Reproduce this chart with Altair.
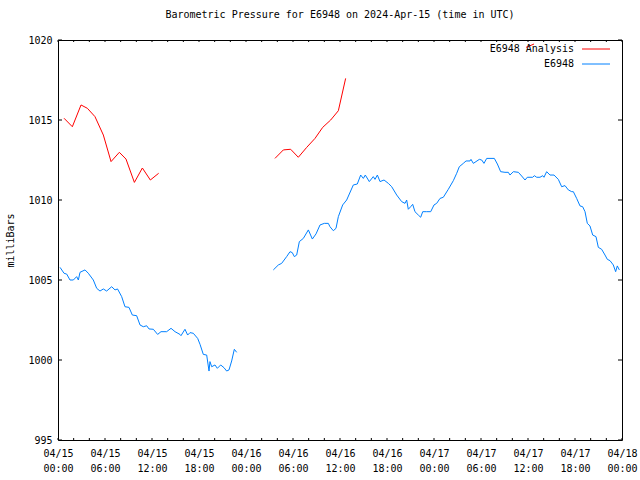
import altair as alt
import pandas as pd

# ---------------- data (hours since 2024-04-15 00:00 UTC, millibars) ----------------
red_seg1_hours = [0.77, 1.83, 2.94, 3.75, 4.72, 5.79, 6.77, 7.83, 8.68, 9.75, 10.77, 11.79, 12.85]
red_seg1_mbar = [1015.11, 1014.58, 1015.94, 1015.73, 1015.21, 1014.06, 1012.40, 1012.98,
                 1012.56, 1011.10, 1012.00, 1011.25, 1011.67]
red_seg2_hours = [27.70, 28.77, 29.70, 30.68, 31.75, 32.81, 33.79, 34.81, 35.79, 36.72]
red_seg2_mbar = [1012.60, 1013.13, 1013.17, 1012.67, 1013.29, 1013.85, 1014.54, 1015.00,
                 1015.58, 1017.60]
red_seg3_hours = [59.75, 60.77]
red_seg3_mbar = [1019.54, 1019.75]

blue_seg1_hours = [0.26, 0.77, 1.11, 1.53, 1.96, 2.38, 2.60, 2.81, 3.45, 3.87, 4.51, 4.94,
                   5.36, 5.79, 6.21, 6.85, 7.28, 7.60, 8.13, 8.55, 9.06, 9.49, 10.04, 10.47,
                   10.89, 11.32, 11.62, 12.17, 12.72, 13.15, 13.87, 14.43, 14.94, 15.57,
                   15.70, 16.21, 16.55, 16.85, 17.27, 17.83, 18.13, 18.55, 18.98, 19.28,
                   19.40, 19.62, 20.04, 20.34, 20.77, 21.19, 21.53, 21.83, 22.17, 22.51, 22.81]
blue_seg1_mbar = [1005.79, 1005.42, 1005.37, 1005.00, 1005.00, 1005.21, 1005.00, 1005.48,
                  1005.63, 1005.42, 1005.00, 1004.48, 1004.31, 1004.44, 1004.31, 1004.58,
                  1004.38, 1004.44, 1003.96, 1003.33, 1003.29, 1002.81, 1002.77, 1002.19,
                  1002.08, 1002.14, 1001.94, 1001.92, 1001.60, 1001.77, 1001.77, 1001.98,
                  1001.77, 1001.60, 1001.52, 1001.92, 1001.56, 1001.71, 1001.67, 1001.35,
                  1000.98, 1000.35, 1000.31, 999.31, 999.90, 999.58, 999.69, 999.48,
                  999.69, 999.52, 999.31, 999.38, 999.94, 1000.67, 1000.48]

blue_seg2_hours = [27.49, 28.13, 28.55, 29.19, 29.62, 29.91, 30.17, 30.47, 30.81, 31.32,
                   31.96, 32.47, 32.94, 33.45, 34.00, 34.51, 34.72, 35.15, 35.49, 35.79,
                   36.34, 36.85, 37.70, 38.21, 38.64, 38.98, 39.23, 39.74, 40.25, 40.47,
                   40.77, 41.11, 41.62, 42.17, 42.60, 43.24, 43.87, 44.30, 44.51, 44.72,
                   45.02, 45.28, 45.57, 46.00, 46.30, 46.56, 47.07, 47.58, 48.00, 48.34,
                   48.77, 49.19, 49.83, 50.47, 50.90, 51.23, 51.74, 52.09, 52.60, 52.72,
                   53.02, 53.36, 53.79, 54.09, 54.38, 54.73, 55.15, 55.70, 56.09, 56.51,
                   57.06, 57.49, 57.70, 58.13, 58.77, 59.19, 59.62, 59.91, 60.60, 60.81,
                   61.11, 61.53, 61.88, 62.04, 62.38, 62.81, 63.32, 63.87, 64.30, 64.72,
                   65.15, 65.58, 65.79, 66.21, 66.64, 66.98, 67.28, 67.57, 67.91, 68.26,
                   68.68, 68.98, 69.40, 69.83, 70.13, 70.47, 70.89, 71.19, 71.40, 71.66]
blue_seg2_mbar = [1005.63, 1005.94, 1006.04, 1006.46, 1006.77, 1006.71, 1006.46, 1006.56,
                  1007.40, 1007.60, 1008.13, 1007.56, 1007.88, 1008.44, 1008.54, 1008.54,
                  1008.33, 1008.08, 1008.23, 1008.96, 1009.69, 1010.00, 1010.94, 1011.00,
                  1011.56, 1011.35, 1011.56, 1011.15, 1011.46, 1011.29, 1011.56, 1011.15,
                  1011.25, 1011.04, 1010.83, 1010.31, 1009.90, 1009.79, 1010.00, 1009.42,
                  1009.58, 1009.73, 1009.27, 1009.06, 1008.92, 1009.27, 1009.27, 1009.27,
                  1009.69, 1009.79, 1010.10, 1010.17, 1010.67, 1011.21, 1011.67, 1012.08,
                  1012.29, 1012.44, 1012.44, 1012.54, 1012.29, 1012.40, 1012.54, 1012.50,
                  1012.29, 1012.60, 1012.60, 1012.60, 1012.25, 1011.77, 1011.73, 1011.73,
                  1011.56, 1011.77, 1011.73, 1011.50, 1011.25, 1011.42, 1011.42, 1011.52,
                  1011.42, 1011.42, 1011.52, 1011.42, 1011.77, 1011.56, 1011.56, 1011.29,
                  1010.83, 1010.90, 1010.63, 1010.52, 1010.52, 1010.10, 1009.63, 1009.58,
                  1009.27, 1008.54, 1008.38, 1007.81, 1007.71, 1007.04, 1006.92, 1006.56,
                  1006.29, 1006.21, 1005.94, 1005.52, 1005.88, 1005.63]

x_tick_hours = list(range(0, 73, 2))
x_label_hours = list(range(0, 73, 6))
y_tick_values = [995, 1000, 1005, 1010, 1015, 1020]

series_names = ["E6948 Analysis", "E6948"]
series_colors = ["#ff0000", "#0080ff"]

TITLE = "Barometric Pressure for E6948 on 2024-Apr-15 (time in UTC)"
FONT = "DejaVu Sans Mono"

# ---------------- build table ----------------
rows = []
for seg, (hh, vv) in enumerate([(red_seg1_hours, red_seg1_mbar),
                                (red_seg2_hours, red_seg2_mbar),
                                (red_seg3_hours, red_seg3_mbar)]):
    for h, v in zip(hh, vv):
        rows.append({"hours": h, "mbar": v, "series": series_names[0], "seg": f"r{seg}"})
for seg, (hh, vv) in enumerate([(blue_seg1_hours, blue_seg1_mbar),
                                (blue_seg2_hours, blue_seg2_mbar)]):
    for h, v in zip(hh, vv):
        rows.append({"hours": h, "mbar": v, "series": series_names[1], "seg": f"b{seg}"})
df = pd.DataFrame(rows)

W, H = 564, 400

label_expr = ("['04/' + (15 + floor(datum.value / 24)), "
              "((datum.value % 24) < 10 ? '0' : '') + (datum.value % 24) + ':00']")

x_scale = alt.Scale(domain=[0, 72], nice=False, zero=False)
y_scale = alt.Scale(domain=[995, 1020], nice=False, zero=False)

x_axis = alt.Axis(values=x_label_hours, labelExpr=label_expr, title=None,
                  labelLineHeight=15, labelPadding=8, labelFlush=False,
                  labelOverlap=False, grid=False, ticks=False, domain=False,
                  labelFont=FONT, labelFontSize=10, labelColor="black")
y_axis = alt.Axis(values=y_tick_values, title="milliBars", titleAngle=270,
                  titleX=-48, titleY=H / 2, titleAlign="center",
                  titleBaseline="middle", labelPadding=6, format="d",
                  grid=False, ticks=False, domain=False,
                  labelFont=FONT, labelFontSize=10, labelColor="black",
                  titleFont=FONT, titleFontSize=10, titleFontWeight="normal",
                  titleColor="black")


def xe():
    return alt.X("hours:Q", scale=x_scale, axis=x_axis)


def ye():
    return alt.Y("mbar:Q", scale=y_scale, axis=y_axis)


lines = alt.Chart(df).mark_line(strokeWidth=1, clip=True).encode(
    x=xe(),
    y=ye(),
    color=alt.Color("series:N", scale=alt.Scale(domain=series_names, range=series_colors),
                    legend=None),
    detail="seg:N",
)

xt = pd.DataFrame({"hours": x_tick_hours})
yt = pd.DataFrame({"mbar": y_tick_values})

tick_bottom = alt.Chart(xt).mark_rule(color="black", strokeWidth=1).encode(
    x=xe(), y=alt.value(H), y2=alt.value(H - 2))
tick_top = alt.Chart(xt).mark_rule(color="black", strokeWidth=1).encode(
    x=xe(), y=alt.value(0), y2=alt.value(2))
tick_left = alt.Chart(yt).mark_rule(color="black", strokeWidth=1).encode(
    y=ye(), x=alt.value(0), x2=alt.value(4))
tick_right = alt.Chart(yt).mark_rule(color="black", strokeWidth=1).encode(
    y=ye(), x=alt.value(W), x2=alt.value(W - 4))

# legend (gnuplot style: text left, sample line right)
leg_text1 = alt.Chart().mark_text(align="right", baseline="middle", font=FONT,
                                   fontSize=10, color="black").encode(
    x=alt.value(516), y=alt.value(9), text=alt.value(series_names[0]))
leg_text2 = alt.Chart().mark_text(align="right", baseline="middle", font=FONT,
                                   fontSize=10, color="black").encode(
    x=alt.value(516), y=alt.value(24), text=alt.value(series_names[1]))
leg_line1 = alt.Chart().mark_rule(color=series_colors[0], strokeWidth=1).encode(
    x=alt.value(524), x2=alt.value(552), y=alt.value(9))
leg_line2 = alt.Chart().mark_rule(color=series_colors[1], strokeWidth=1).encode(
    x=alt.value(524), x2=alt.value(552), y=alt.value(24))

chart = alt.layer(
    lines, tick_bottom, tick_top, tick_left, tick_right,
    leg_text1, leg_text2, leg_line1, leg_line2,
).properties(
    width=W,
    height=H,
    background="white",
    title=alt.TitleParams(TITLE, font=FONT, fontSize=10, fontWeight="normal",
                          anchor="middle", offset=15, color="black"),
    autosize=alt.AutoSizeParams(type="none"),
    padding={"left": 58, "top": 40, "right": 18, "bottom": 40},
).configure_view(
    stroke="black", strokeWidth=1
).configure_axis(
    labelFont=FONT, labelFontSize=10, labelColor="black",
    titleFont=FONT, titleFontSize=10, titleFontWeight="normal", titleColor="black",
    domain=False, ticks=False, grid=False,
)

chart.save("out.html", embed_options={"renderer": "svg", "actions": False})
